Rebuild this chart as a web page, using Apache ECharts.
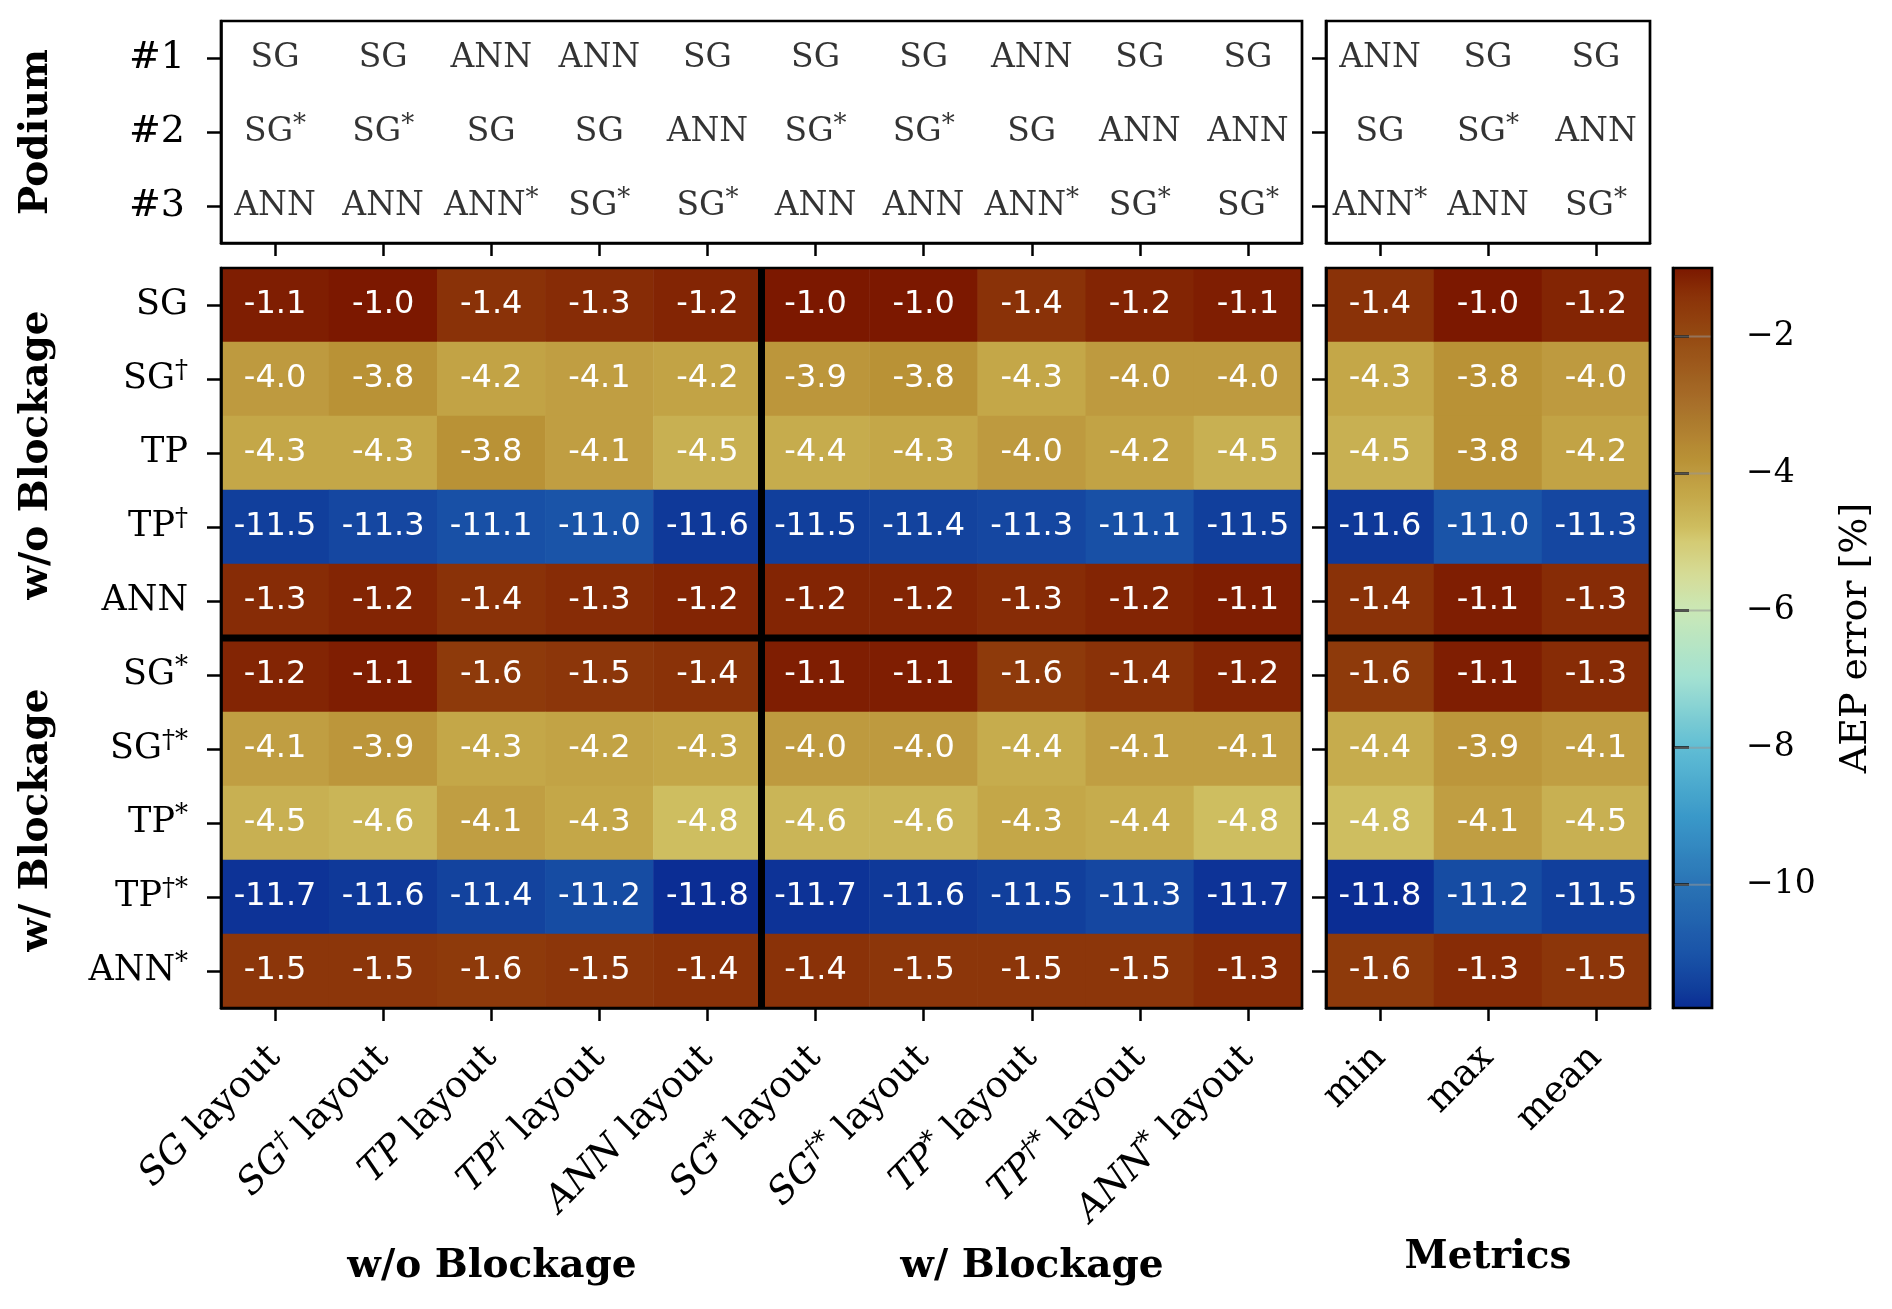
<!DOCTYPE html>
<html>
<head>
<meta charset="utf-8">
<script src="https://cdn.jsdelivr.net/npm/echarts@6/dist/echarts.min.js"></script>
<style>
html, body { margin: 0; padding: 0; background: #fff; }
#chart { width: 1892px; height: 1309px; }
</style>
</head>
<body>
<div id="chart"></div>
<script>
// ---- data ----
var rowNames = ['SG', 'SG†', 'TP', 'TP†', 'ANN', 'SG*', 'SG†*', 'TP*', 'TP†*', 'ANN*'];
var layoutNames = ['SG', 'SG†', 'TP', 'TP†', 'ANN', 'SG*', 'SG†*', 'TP*', 'TP†*', 'ANN*'];
var metricNames = ['min', 'max', 'mean'];
var podiumRanks = ['#1', '#2', '#3'];

// AEP error [%], one value per layout column
var errSG     = [-1.1, -1.0, -1.4, -1.3, -1.2, -1.0, -1.0, -1.4, -1.2, -1.1];
var errSGd    = [-4.0, -3.8, -4.2, -4.1, -4.2, -3.9, -3.8, -4.3, -4.0, -4.0];
var errTP     = [-4.3, -4.3, -3.8, -4.1, -4.5, -4.4, -4.3, -4.0, -4.2, -4.5];
var errTPd    = [-11.5, -11.3, -11.1, -11.0, -11.6, -11.5, -11.4, -11.3, -11.1, -11.5];
var errANN    = [-1.3, -1.2, -1.4, -1.3, -1.2, -1.2, -1.2, -1.3, -1.2, -1.1];
var errSGs    = [-1.2, -1.1, -1.6, -1.5, -1.4, -1.1, -1.1, -1.6, -1.4, -1.2];
var errSGds   = [-4.1, -3.9, -4.3, -4.2, -4.3, -4.0, -4.0, -4.4, -4.1, -4.1];
var errTPs    = [-4.5, -4.6, -4.1, -4.3, -4.8, -4.6, -4.6, -4.3, -4.4, -4.8];
var errTPds   = [-11.7, -11.6, -11.4, -11.2, -11.8, -11.7, -11.6, -11.5, -11.3, -11.7];
var errANNs   = [-1.5, -1.5, -1.6, -1.5, -1.4, -1.4, -1.5, -1.5, -1.5, -1.3];

// metrics per row
var metricMin  = [-1.4, -4.3, -4.5, -11.6, -1.4, -1.6, -4.4, -4.8, -11.8, -1.6];
var metricMax  = [-1.0, -3.8, -3.8, -11.0, -1.1, -1.1, -3.9, -4.1, -11.2, -1.3];
var metricMean = [-1.2, -4.0, -4.2, -11.3, -1.3, -1.3, -4.1, -4.5, -11.5, -1.5];

// podium: 10 layout columns then min / max / mean
var podium1 = ['SG', 'SG', 'ANN', 'ANN', 'SG', 'SG', 'SG', 'ANN', 'SG', 'SG', 'ANN', 'SG', 'SG'];
var podium2 = ['SG*', 'SG*', 'SG', 'SG', 'ANN', 'SG*', 'SG*', 'SG', 'ANN', 'ANN', 'SG', 'SG*', 'ANN'];
var podium3 = ['ANN', 'ANN', 'ANN*', 'SG*', 'SG*', 'ANN', 'ANN', 'ANN*', 'SG*', 'SG*', 'ANN*', 'ANN', 'SG*'];

var cbTicks = [-2, -4, -6, -8, -10];
var cbMin = -11.8, cbMax = -1.0;

// ---- layout ----
var L = 221, W = 1081;          // main blocks
var ML = 1326, MW = 324;        // metrics blocks
var PT = 21, PH = 222;          // podium
var HT = 268, HH = 740;         // heatmap
var CBL = 1673, CBW = 39;       // colorbar
var SERIF = '"DejaVu Serif", serif';

// colour ramp (brown -> gold -> pale -> cyan -> blue)
var cmapStops = [
    [-11.8, '#0b2d94'], [-11.5, '#113f9c'], [-11.0, '#1a54a8'], [-10.0, '#2a73b5'],
    [-9.0, '#3a99c9'], [-8.0, '#60bdd4'], [-7.0, '#a2e1d2'], [-6.0, '#cae8b6'],
    [-5.5, '#d5dc98'], [-5.0, '#d4cb74'], [-4.8, '#cebe60'], [-4.5, '#c8b052'],
    [-4.3, '#c4a748'], [-4.0, '#be9a3f'], [-3.8, '#b99236'], [-3.0, '#a8702a'],
    [-2.0, '#954a12'], [-1.4, '#8a3208'], [-1.0, '#7c1800']
];
function hexRgb(h) {
    return [parseInt(h.substr(1, 2), 16), parseInt(h.substr(3, 2), 16), parseInt(h.substr(5, 2), 16)];
}
function colorAt(v) {
    for (var i = 0; i < cmapStops.length - 1; i++) {
        var a = cmapStops[i], b = cmapStops[i + 1];
        if (v <= b[0] + 1e-9) {
            var t = (v - a[0]) / (b[0] - a[0]);
            var ca = hexRgb(a[1]), cb = hexRgb(b[1]);
            return 'rgb(' + ca.map(function (c, k) { return Math.round(c + (cb[k] - c) * t); }).join(',') + ')';
        }
    }
    return cmapStops[cmapStops.length - 1][1];
}
var ramp = [];
for (var s = 0; s <= 108; s++) ramp.push(colorAt(cbMin + s * 0.1));

// ---- build series data ----
var rows = [errSG, errSGd, errTP, errTPd, errANN, errSGs, errSGds, errTPs, errTPds, errANNs];
var metricCols = [metricMin, metricMax, metricMean];
var podiums = [podium1, podium2, podium3];

var mainData = [], metricData = [], podMain = [], podMetric = [];
rows.forEach(function (row, r) {
    row.forEach(function (v, c) { mainData.push([c, r, v]); });
});
metricCols.forEach(function (col, c) {
    col.forEach(function (v, r) { metricData.push([c, r, v]); });
});
podiums.forEach(function (pod, r) {
    pod.forEach(function (name, c) {
        if (c < 10) podMain.push([c, r, name]);
        else podMetric.push([c - 10, r, name]);
    });
});

function richName(name, base, sup, tail) {
    var m = name.match(/^([A-Za-z]+)(.*)$/);
    var out = '{' + base + '|' + m[1] + '}';
    if (m[2]) out += '{' + sup + '|' + m[2] + '}';
    if (tail) out += '{n| ' + tail + '}';
    return out;
}

var tickStyle = { color: '#000', width: 2.5 };
var lineOn = { show: true, lineStyle: { color: '#000', width: 2.5 } };
var podRich = {
    b: { fontFamily: SERIF, fontSize: 33, color: '#000', lineHeight: 40 },
    s: { fontFamily: SERIF, fontSize: 26, color: '#000', lineHeight: 22, verticalAlign: 'top' }
};

var chart = echarts.init(document.getElementById('chart'));

var option = {
    backgroundColor: '#fff',
    animation: false,
    grid: [
        { left: L, top: PT, width: W, height: PH },
        { left: ML, top: PT, width: MW, height: PH },
        { left: L, top: HT, width: W, height: HH },
        { left: ML, top: HT, width: MW, height: HH },
        { left: CBL, top: HT, width: CBW, height: HH }
    ],
    xAxis: [
        {
            gridIndex: 0, type: 'category', data: layoutNames, position: 'bottom',
            axisLine: lineOn, axisLabel: { show: false },
            axisTick: { show: true, alignWithLabel: true, length: 13, lineStyle: tickStyle }
        },
        {
            gridIndex: 1, type: 'category', data: metricNames, position: 'bottom',
            axisLine: lineOn, axisLabel: { show: false },
            axisTick: { show: true, alignWithLabel: true, length: 13, lineStyle: tickStyle }
        },
        {
            gridIndex: 2, type: 'category', data: layoutNames, position: 'bottom', z: 10,
            axisLine: lineOn,
            axisTick: { show: true, alignWithLabel: true, length: 13, lineStyle: tickStyle },
            axisLabel: {
                rotate: 45, margin: 44, interval: 0,
                formatter: function (v) { return richName(v, 'b', 's', 'layout'); },
                rich: {
                    b: { fontFamily: SERIF, fontStyle: 'italic', fontSize: 37, color: '#000', lineHeight: 44 },
                    s: { fontFamily: SERIF, fontStyle: 'italic', fontSize: 27, color: '#000', lineHeight: 22, verticalAlign: 'top' },
                    n: { fontFamily: SERIF, fontSize: 37, color: '#000', lineHeight: 44 }
                }
            }
        },
        {
            gridIndex: 3, type: 'category', data: metricNames, position: 'bottom', z: 10,
            axisLine: lineOn,
            axisTick: { show: true, alignWithLabel: true, length: 13, lineStyle: tickStyle },
            axisLabel: { rotate: 45, margin: 44, interval: 0, fontFamily: SERIF, fontSize: 37, color: '#000' }
        },
        { gridIndex: 4, type: 'value', show: false }
    ],
    yAxis: [
        {
            gridIndex: 0, type: 'category', data: podiumRanks, inverse: true,
            axisLine: lineOn,
            axisTick: { show: true, alignWithLabel: true, length: 14, lineStyle: tickStyle },
            axisLabel: { margin: 36, fontFamily: SERIF, fontSize: 38, color: '#000' }
        },
        {
            gridIndex: 1, type: 'category', data: podiumRanks, inverse: true,
            axisLine: lineOn, axisLabel: { show: false },
            axisTick: { show: true, alignWithLabel: true, length: 14, lineStyle: tickStyle }
        },
        {
            gridIndex: 2, type: 'category', data: rowNames, inverse: true, z: 10,
            axisLine: lineOn,
            axisTick: { show: true, alignWithLabel: true, length: 14, lineStyle: tickStyle },
            axisLabel: {
                margin: 33, interval: 0,
                formatter: function (v) { return richName(v, 'b', 's'); },
                rich: {
                    b: { fontFamily: SERIF, fontSize: 35, color: '#000', lineHeight: 42 },
                    s: { fontFamily: SERIF, fontSize: 26, color: '#000', lineHeight: 22, verticalAlign: 'top' }
                }
            }
        },
        {
            gridIndex: 3, type: 'category', data: rowNames, inverse: true, z: 10,
            axisLine: lineOn, axisLabel: { show: false },
            axisTick: { show: true, alignWithLabel: true, length: 14, lineStyle: tickStyle }
        },
        {
            gridIndex: 4, type: 'value', min: cbMin, max: cbMax, position: 'right', z: 10,
            axisLine: lineOn,
            splitLine: { show: false },
            axisTick: { show: true, customValues: cbTicks, length: 16, lineStyle: tickStyle },
            axisLabel: {
                customValues: cbTicks, margin: 34, fontFamily: SERIF, fontSize: 33, color: '#000',
                formatter: function (v) { return String(v).replace('-', '\u2212'); }
            },
            name: 'AEP error [%]', nameLocation: 'middle', nameRotate: 90, nameGap: 125,
            nameTextStyle: { fontFamily: SERIF, fontSize: 38, color: '#000' }
        }
    ],
    visualMap: {
        type: 'continuous', min: cbMin, max: cbMax, seriesIndex: [2, 3],
        calculable: false, hoverLink: false, padding: 0,
        left: CBL, top: HT, itemWidth: CBW, itemHeight: HH,
        inRange: { color: ramp }
    },
    series: [
        {
            type: 'scatter', xAxisIndex: 0, yAxisIndex: 0, data: podMain, silent: true,
            symbolSize: 1, itemStyle: { color: 'rgba(0,0,0,0)' },
            label: {
                show: true, position: 'inside',
                formatter: function (p) { return richName(p.data[2], 'b', 's'); },
                rich: podRich
            }
        },
        {
            type: 'scatter', xAxisIndex: 1, yAxisIndex: 1, data: podMetric, silent: true,
            symbolSize: 1, itemStyle: { color: 'rgba(0,0,0,0)' },
            label: {
                show: true, position: 'inside',
                formatter: function (p) { return richName(p.data[2], 'b', 's'); },
                rich: podRich
            }
        },
        {
            type: 'heatmap', xAxisIndex: 2, yAxisIndex: 2, data: mainData, silent: true,
            label: {
                show: true, color: '#fff', fontFamily: '"DejaVu Sans", sans-serif', fontSize: 32,
                formatter: function (p) { return p.data[2].toFixed(1); }
            }
        },
        {
            type: 'heatmap', xAxisIndex: 3, yAxisIndex: 3, data: metricData, silent: true,
            label: {
                show: true, color: '#fff', fontFamily: '"DejaVu Sans", sans-serif', fontSize: 32,
                formatter: function (p) { return p.data[2].toFixed(1); }
            }
        }
    ]
};

function boxEl(x, y, w, h) {
    return { type: 'rect', z: 100, shape: { x: x, y: y, width: w, height: h }, style: { fill: null, stroke: '#000', lineWidth: 2.7 } };
}
function titleEl(text, x, y, rot) {
    return {
        type: 'text', z: 100, x: x, y: y, rotation: rot || 0,
        style: { text: text, fontFamily: SERIF, fontWeight: 'bold', fontSize: 39, fill: '#000', align: 'center', verticalAlign: 'middle' }
    };
}
var graphicEls = [
    boxEl(L, PT, W, PH), boxEl(ML, PT, MW, PH), boxEl(L, HT, W, HH), boxEl(ML, HT, MW, HH), boxEl(CBL, HT, CBW, HH),
    titleEl('w/o Blockage', 492, 1267), titleEl('w/ Blockage', 1032, 1267), titleEl('Metrics', 1488, 1258),
    titleEl('Podium', 37, 132, Math.PI / 2), titleEl('w/o Blockage', 37, 455, Math.PI / 2), titleEl('w/ Blockage', 37, 820, Math.PI / 2)
];
option.graphic = graphicEls;
chart.setOption(option);

// group separators and colorbar tick lines, placed through the axes' own scales
var xMid = (chart.convertToPixel({ xAxisIndex: 2 }, 4) + chart.convertToPixel({ xAxisIndex: 2 }, 5)) / 2;
var yMid = (chart.convertToPixel({ yAxisIndex: 2 }, 4) + chart.convertToPixel({ yAxisIndex: 2 }, 5)) / 2;
var sepStyle = { stroke: '#000', lineWidth: 7 };
graphicEls.push(
    { type: 'line', z: 90, shape: { x1: xMid, y1: HT, x2: xMid, y2: HT + HH }, style: sepStyle },
    { type: 'line', z: 90, shape: { x1: L, y1: yMid, x2: L + W, y2: yMid }, style: sepStyle },
    { type: 'line', z: 90, shape: { x1: ML, y1: yMid, x2: ML + MW, y2: yMid }, style: sepStyle }
);
cbTicks.forEach(function (v) {
    var y = chart.convertToPixel({ yAxisIndex: 4 }, v);
    graphicEls.push({ type: 'line', z: 90, shape: { x1: CBL, y1: y, x2: CBL + CBW, y2: y }, style: { stroke: 'rgba(150,150,150,0.55)', lineWidth: 2 } });
});
chart.setOption({ graphic: graphicEls });
</script>
</body>
</html>
